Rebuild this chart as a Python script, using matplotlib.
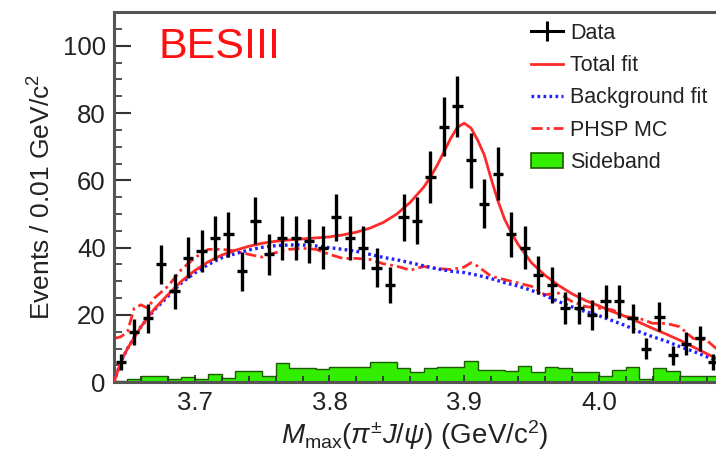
import numpy as np
import matplotlib
matplotlib.use("Agg")
import matplotlib.pyplot as plt
from matplotlib.lines import Line2D
from matplotlib.patches import Patch

plt.rcParams.update({
    "font.family": ["Liberation Sans", "DejaVu Sans"],
    "mathtext.fontset": "custom",
    "mathtext.rm": "Liberation Sans",
    "mathtext.it": "Liberation Sans:italic",
    "mathtext.bf": "Liberation Sans:bold",
})

# binning: 0.01 GeV/c^2 bins starting at 3.64
BIN_LO = 3.64
BIN_W = 0.01

# data counts per bin
data_counts = [6, 15, 19, 35, 27, 37, 39, 43, 44, 33,
               48, 38, 43, 43, 42, 40, 49, 43, 40, 34,
               29, 49, 48, 61, 76, 82, 66, 53, 62, 44,
               40, 32, 29, 22, 22, 20, 24, 24, 19, 10,
               19.5, 8, 11.5, 13, 6]

# sideband histogram per bin
sideband = [0.5, 1.0, 1.7, 1.7, 0.9, 1.5, 0.9, 2.5, 1.2, 3.3,
            3.2, 1.7, 5.6, 4.2, 4.2, 3.8, 4.6, 4.6, 4.6, 5.9,
            5.9, 4.3, 3.1, 4.1, 4.6, 4.6, 6.4, 3.6, 3.6, 3.3,
            4.9, 3.1, 4.6, 4.1, 2.9, 3.1, 1.9, 3.6, 4.6, 1.1,
            4.1, 3.3, 1.9, 1.9, 1.9]

# total fit curve
fit_mass = [3.64, 3.645, 3.65, 3.66, 3.67, 3.68, 3.69, 3.70, 3.71, 3.72,
            3.73, 3.74, 3.75, 3.76, 3.77, 3.78, 3.79, 3.80, 3.81, 3.82,
            3.83, 3.84, 3.85, 3.86, 3.87, 3.875, 3.88, 3.885, 3.89, 3.895,
            3.90, 3.905, 3.91, 3.915, 3.92, 3.925, 3.93, 3.935, 3.94, 3.95,
            3.96, 3.97, 3.98, 3.99, 4.00, 4.01, 4.02, 4.03, 4.04, 4.05,
            4.06, 4.07, 4.08, 4.09]
total_fit = [0, 6, 10, 16.5, 21.8, 26, 30, 33.2, 35.8, 37.8,
             39.2, 40.4, 41.3, 41.9, 42.3, 42.6, 42.9, 43.2, 43.8, 44.6,
             45.8, 47.5, 50, 53.5, 58, 61, 64.5, 68.5, 72.5, 75.8,
             77, 75.6, 72, 67.5, 60.5, 54, 48.5, 44.5, 41, 35.5,
             31.8, 28.8, 26.3, 24.3, 22.7, 21, 19.5, 17.8, 16, 14.3,
             12.5, 10.5, 8.5, 6.5]

# background fit curve
bkg_mass = [3.64, 3.645, 3.65, 3.66, 3.67, 3.68, 3.69, 3.70, 3.71, 3.72,
            3.73, 3.74, 3.75, 3.76, 3.77, 3.78, 3.79, 3.80, 3.81, 3.82,
            3.83, 3.84, 3.85, 3.86, 3.87, 3.88, 3.89, 3.90, 3.91, 3.92,
            3.93, 3.94, 3.95, 3.96, 3.97, 3.98, 3.99, 4.00, 4.01, 4.02,
            4.03, 4.04, 4.05, 4.06, 4.07, 4.08, 4.09]
bkg_fit = [0, 6, 10, 16.5, 21.5, 25.5, 29.5, 32.5, 35, 37,
           38.2, 39.3, 40.1, 40.6, 40.8, 40.8, 40.5, 40.0, 39.5, 38.9,
           38.0, 37.1, 36.4, 35.5, 34.6, 33.7, 33.0, 32.6, 31.8, 30.8,
           29.6, 28.6, 27.3, 25.8, 24.0, 22.4, 21.0, 19.8, 18.3, 16.8,
           15.0, 13.5, 12.2, 10.6, 9.2, 7.6, 6.0]

# phase-space MC shape
phsp_mass = [3.64, 3.645, 3.65, 3.655, 3.66, 3.665, 3.67, 3.68, 3.69, 3.70,
             3.71, 3.72, 3.73, 3.74, 3.75, 3.76, 3.77, 3.78, 3.79, 3.80,
             3.81, 3.82, 3.83, 3.84, 3.85, 3.86, 3.87, 3.88, 3.89, 3.90,
             3.905, 3.91, 3.92, 3.93, 3.94, 3.95, 3.96, 3.97, 3.98, 3.99,
             4.00, 4.01, 4.02, 4.03, 4.04, 4.05, 4.06, 4.07, 4.08, 4.09]
phsp_mc = [13, 13.5, 15, 22, 23, 22, 25, 28.5, 33.5, 37,
           39.5, 39.5, 39, 38, 37.2, 38.5, 39.5, 39.8, 39.5, 38,
           36.8, 36.8, 36.5, 35.2, 34.5, 33.3, 34.4, 33.8, 33.5, 34.2,
           35.5, 34.5, 31.5, 30.5, 29.5, 28.5, 26, 26.5, 24, 22.5,
           22, 21.5, 19.5, 19, 17.5, 17.5, 16.5, 13, 12.5, 9]

RED = "#ff2a2a"
BLUE = "#1f1fff"
GREEN = "#33ee00"
TXT = "#222222"

n_bins = len(data_counts)
edges = BIN_LO + BIN_W * np.arange(n_bins + 1)
centers = edges[:-1] + BIN_W / 2
counts = np.array(data_counts, dtype=float)

fig = plt.figure(figsize=(7.16, 4.51), dpi=100)
ax = fig.add_axes([114 / 716, 1 - 382.2 / 451, (716 - 114) / 716, 370 / 451])

ax.stairs(sideband, edges, fill=True, facecolor=GREEN, edgecolor="#1d5a00",
          linewidth=1.0, zorder=1)
ax.plot(phsp_mass, phsp_mc, color=RED, lw=2.0, ls=(0, (4, 1.5, 1, 1.5)), zorder=2)
ax.plot(bkg_mass, bkg_fit, color=BLUE, lw=2.4, ls=(0, (0.8, 1.0)), zorder=3)
ax.plot(fit_mass, total_fit, color=RED, lw=2.0, zorder=4)
ax.errorbar(centers, counts, yerr=np.sqrt(counts), xerr=0.0038, fmt="none",
            ecolor="black", elinewidth=2.4, capsize=0, zorder=5)

ax.set_xlim(BIN_LO, 4.087)
ax.set_ylim(0, 110)
ax.set_xticks([3.7, 3.8, 3.9, 4.0])
ax.set_xticklabels(["3.7", "3.8", "3.9", "4.0"])
ax.set_xticks(np.arange(3.64, 4.09, 0.02), minor=True)
ax.set_yticks([0, 20, 40, 60, 80, 100])
ax.set_yticks(np.arange(0, 111, 5), minor=True)
ax.tick_params(axis="both", which="both", direction="in", colors="#333333",
               labelcolor=TXT, labelsize=18.5)
ax.tick_params(axis="y", which="major", length=12, width=1.5, pad=6)
ax.tick_params(axis="y", which="minor", length=6, width=1.2)
ax.tick_params(axis="x", which="major", length=5, width=1.3, pad=6)
ax.tick_params(axis="x", which="minor", length=4, width=1.3)
ax.tick_params(right=False, top=False, which="both")

for side in ("left", "top", "bottom"):
    ax.spines[side].set_color("#555555")
    ax.spines[side].set_linewidth(2.2)
ax.spines["right"].set_visible(False)

ax.set_ylabel("Events / 0.01 GeV/c$^2$", fontsize=19, color=TXT, labelpad=5)
ax.set_xlabel(r"$M_{\rm max}(\pi^{\pm}J/\psi)$ (GeV/c$^2$)", fontsize=20,
              color=TXT, labelpad=3)

fig.text(158 / 716, 1 - 58 / 451, "BESIII", color="#ff1010", fontsize=31,
         ha="left", va="baseline")

handles = [
    Line2D([], [], color="black", lw=2.2, marker="|", markersize=14, mew=2.2),
    Line2D([], [], color=RED, lw=2.0),
    Line2D([], [], color=BLUE, lw=2.4, ls=(0, (0.8, 1.0))),
    Line2D([], [], color=RED, lw=2.0, ls=(0, (4, 1.5, 1, 1.5))),
    Patch(facecolor=GREEN, edgecolor="#1d5a00", linewidth=1.2),
]
labels = ["Data", "Total fit", "Background fit", "PHSP MC", "Sideband"]
leg = fig.legend(handles, labels, loc="upper left",
                 bbox_to_anchor=(531 / 716, 1 - 23 / 451), frameon=False,
                 fontsize=15.5, handlelength=1.5, handletextpad=0.3,
                 labelspacing=0.52, borderpad=0, borderaxespad=0)
for t in leg.get_texts():
    t.set_color(TXT)

fig.savefig("out.png", dpi=100)
